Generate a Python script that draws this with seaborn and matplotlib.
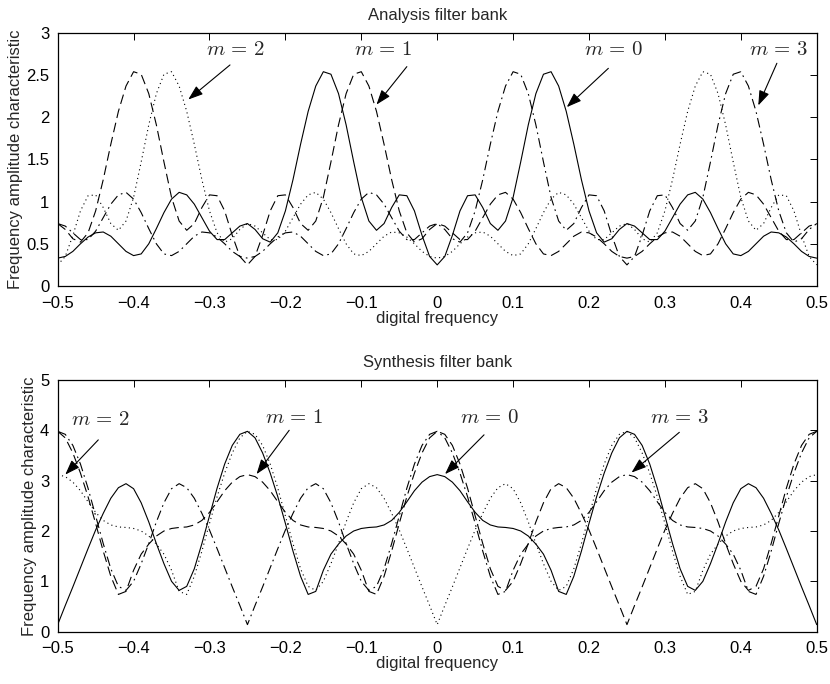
import numpy as np
import pandas as pd
import seaborn as sns
import matplotlib
matplotlib.use("Agg")
import matplotlib.pyplot as plt

# ---------------- data ----------------
freq = np.round(np.arange(-50, 51) / 100.0, 2)

analysis_m0 = [0.33,0.35,0.41,0.50,0.58,0.63,0.64,0.59,0.50,0.41,
 0.36,0.38,0.50,0.68,0.87,1.03,1.11,1.08,0.97,0.81,
 0.65,0.55,0.55,0.63,0.71,0.74,0.67,0.56,0.52,0.63,
 0.89,1.26,1.68,2.07,2.37,2.54,2.51,2.28,1.91,1.47,
 1.05,0.77,0.66,0.74,0.93,1.08,1.07,0.89,0.60,0.35,
 0.25,0.35,0.60,0.89,1.07,1.08,0.93,0.74,0.66,0.77,
 1.05,1.47,1.91,2.28,2.51,2.54,2.37,2.07,1.68,1.26,
 0.89,0.63,0.52,0.56,0.67,0.74,0.71,0.63,0.55,0.55,
 0.65,0.81,0.97,1.08,1.11,1.03,0.87,0.68,0.50,0.38,
 0.36,0.41,0.50,0.59,0.64,0.63,0.58,0.50,0.41,0.35,
 0.33]

analysis_m1 = [0.74,0.67,0.56,0.52,0.63,
 0.89,1.26,1.68,2.07,2.37,2.54,2.51,2.28,1.91,1.47,
 1.05,0.77,0.66,0.74,0.93,1.08,1.07,0.89,0.60,0.35,
 0.25,0.35,0.60,0.89,1.07,1.08,0.93,0.74,0.66,0.77,
 1.05,1.47,1.91,2.28,2.51,2.54,2.37,2.07,1.68,1.26,
 0.89,0.63,0.52,0.56,0.67,0.74,0.71,0.63,0.55,0.55,
 0.65,0.81,0.97,1.08,1.11,1.03,0.87,0.68,0.50,0.38,
 0.36,0.41,0.50,0.59,0.64,0.63,0.58,0.50,0.41,0.35,
 0.33,0.35,0.41,0.50,0.58,0.63,0.64,0.59,0.50,0.41,
 0.36,0.38,0.50,0.68,0.87,1.03,1.11,1.08,0.97,0.81,
 0.65,0.55,0.55,0.63,0.71,
 0.74]

analysis_m2 = [0.25,0.35,0.60,0.89,1.07,1.08,0.93,0.74,0.66,0.77,
 1.05,1.47,1.91,2.28,2.51,2.54,2.37,2.07,1.68,1.26,
 0.89,0.63,0.52,0.56,0.67,0.74,0.71,0.63,0.55,0.55,
 0.65,0.81,0.97,1.08,1.11,1.03,0.87,0.68,0.50,0.38,
 0.36,0.41,0.50,0.59,0.64,0.63,0.58,0.50,0.41,0.35,
 0.33,0.35,0.41,0.50,0.58,0.63,0.64,0.59,0.50,0.41,
 0.36,0.38,0.50,0.68,0.87,1.03,1.11,1.08,0.97,0.81,
 0.65,0.55,0.55,0.63,0.71,0.74,0.67,0.56,0.52,0.63,
 0.89,1.26,1.68,2.07,2.37,2.54,2.51,2.28,1.91,1.47,
 1.05,0.77,0.66,0.74,0.93,1.08,1.07,0.89,0.60,0.35,
 0.25]

analysis_m3 = [0.74,0.71,0.63,0.55,0.55,
 0.65,0.81,0.97,1.08,1.11,1.03,0.87,0.68,0.50,0.38,
 0.36,0.41,0.50,0.59,0.64,0.63,0.58,0.50,0.41,0.35,
 0.33,0.35,0.41,0.50,0.58,0.63,0.64,0.59,0.50,0.41,
 0.36,0.38,0.50,0.68,0.87,1.03,1.11,1.08,0.97,0.81,
 0.65,0.55,0.55,0.63,0.71,0.74,0.67,0.56,0.52,0.63,
 0.89,1.26,1.68,2.07,2.37,2.54,2.51,2.28,1.91,1.47,
 1.05,0.77,0.66,0.74,0.93,1.08,1.07,0.89,0.60,0.35,
 0.25,0.35,0.60,0.89,1.07,1.08,0.93,0.74,0.66,0.77,
 1.05,1.47,1.91,2.28,2.51,2.54,2.37,2.07,1.68,1.26,
 0.89,0.63,0.52,0.56,0.67,
 0.74]

synthesis_m0 = [0.14,0.52,0.89,1.27,1.65,2.02,2.35,2.65,2.86,2.94,
 2.84,2.56,2.18,1.75,1.35,1.00,0.82,0.90,1.25,1.75,
 2.30,2.85,3.33,3.70,3.92,3.98,3.85,3.55,3.15,2.68,
 2.15,1.60,1.10,0.74,0.80,1.22,1.54,1.74,1.90,2.00,
 2.05,2.07,2.08,2.12,2.21,2.37,2.58,2.80,2.97,3.08,
 3.12,3.08,2.97,2.80,2.58,2.37,2.21,2.12,2.08,2.07,
 2.05,2.00,1.90,1.74,1.54,1.22,0.80,0.74,1.10,1.60,
 2.15,2.68,3.15,3.55,3.85,3.98,3.92,3.70,3.33,2.85,
 2.30,1.75,1.25,0.90,0.82,1.00,1.35,1.75,2.18,2.56,
 2.84,2.94,2.86,2.65,2.35,2.02,1.65,1.27,0.89,0.52,
 0.14]

synthesis_m1 = [3.98,3.85,3.55,3.15,2.68,
 2.15,1.60,1.10,0.74,0.80,1.22,1.54,1.74,1.90,2.00,
 2.05,2.07,2.08,2.12,2.21,2.37,2.58,2.80,2.97,3.08,
 3.12,3.08,2.97,2.80,2.58,2.37,2.21,2.12,2.08,2.07,
 2.05,2.00,1.90,1.74,1.54,1.22,0.80,0.74,1.10,1.60,
 2.15,2.68,3.15,3.55,3.85,3.98,3.92,3.70,3.33,2.85,
 2.30,1.75,1.25,0.90,0.82,1.00,1.35,1.75,2.18,2.56,
 2.84,2.94,2.86,2.65,2.35,2.02,1.65,1.27,0.89,0.52,
 0.14,0.52,0.89,1.27,1.65,2.02,2.35,2.65,2.86,2.94,
 2.84,2.56,2.18,1.75,1.35,1.00,0.82,0.90,1.25,1.75,
 2.30,2.85,3.33,3.70,3.92,
 3.98]

synthesis_m2 = [3.12,3.08,2.97,2.80,2.58,2.37,2.21,2.12,2.08,2.07,
 2.05,2.00,1.90,1.74,1.54,1.22,0.80,0.74,1.10,1.60,
 2.15,2.68,3.15,3.55,3.85,3.98,3.92,3.70,3.33,2.85,
 2.30,1.75,1.25,0.90,0.82,1.00,1.35,1.75,2.18,2.56,
 2.84,2.94,2.86,2.65,2.35,2.02,1.65,1.27,0.89,0.52,
 0.14,0.52,0.89,1.27,1.65,2.02,2.35,2.65,2.86,2.94,
 2.84,2.56,2.18,1.75,1.35,1.00,0.82,0.90,1.25,1.75,
 2.30,2.85,3.33,3.70,3.92,3.98,3.85,3.55,3.15,2.68,
 2.15,1.60,1.10,0.74,0.80,1.22,1.54,1.74,1.90,2.00,
 2.05,2.07,2.08,2.12,2.21,2.37,2.58,2.80,2.97,3.08,
 3.12]

synthesis_m3 = [3.98,3.92,3.70,3.33,2.85,
 2.30,1.75,1.25,0.90,0.82,1.00,1.35,1.75,2.18,2.56,
 2.84,2.94,2.86,2.65,2.35,2.02,1.65,1.27,0.89,0.52,
 0.14,0.52,0.89,1.27,1.65,2.02,2.35,2.65,2.86,2.94,
 2.84,2.56,2.18,1.75,1.35,1.00,0.82,0.90,1.25,1.75,
 2.30,2.85,3.33,3.70,3.92,3.98,3.85,3.55,3.15,2.68,
 2.15,1.60,1.10,0.74,0.80,1.22,1.54,1.74,1.90,2.00,
 2.05,2.07,2.08,2.12,2.21,2.37,2.58,2.80,2.97,3.08,
 3.12,3.08,2.97,2.80,2.58,2.37,2.21,2.12,2.08,2.07,
 2.05,2.00,1.90,1.74,1.54,1.22,0.80,0.74,1.10,1.60,
 2.15,2.68,3.15,3.55,3.85,
 3.98]

x_ticks = [-0.5, -0.4, -0.3, -0.2, -0.1, 0, 0.1, 0.2, 0.3, 0.4, 0.5]
x_ticklabels = ["\u22120.5", "\u22120.4", "\u22120.3", "\u22120.2", "\u22120.1",
                "0", "0.1", "0.2", "0.3", "0.4", "0.5"]
top_yticks = [0, 0.5, 1, 1.5, 2, 2.5, 3]
top_yticklabels = ["0", "0.5", "1", "1.5", "2", "2.5", "3"]
bot_yticks = [0, 1, 2, 3, 4, 5]
bot_yticklabels = ["0", "1", "2", "3", "4", "5"]

titles = ["Analysis filter bank", "Synthesis filter bank"]
ylabel = "Frequency amplitude characteristic"
xlabel = "digital frequency"
labels = ["$m\\,=\\,0$", "$m\\,=\\,1$", "$m\\,=\\,2$", "$m\\,=\\,3$"]

# annotation anchors: (text x, text y, arrow tail x, tail y, tip x, tip y)
top_notes = {
    2: (-0.266, 2.80, -0.273, 2.62, -0.328, 2.21),
    1: (-0.071, 2.80, -0.040, 2.60, -0.080, 2.15),
    0: (0.232, 2.80, 0.2255, 2.58, 0.1707, 2.12),
    3: (0.450, 2.80, 0.4475, 2.64, 0.423, 2.14),
}
bot_notes = {
    2: (-0.443, 4.22, -0.4465, 3.81, -0.490, 3.12),
    1: (-0.188, 4.25, -0.195, 4.00, -0.238, 3.13),
    0: (0.0697, 4.25, 0.0617, 3.91, 0.0103, 3.13),
    3: (0.319, 4.25, 0.319, 3.96, 0.256, 3.16),
}

# ---------------- style ----------------
sns.set_style("white")
plt.rcParams["font.family"] = ["Liberation Sans", "DejaVu Sans"]
plt.rcParams["mathtext.fontset"] = "cm"
plt.rcParams["lines.scale_dashes"] = False

line_styles = ["-", (0, (7, 3.5)), (0, (0.8, 2.4)), (0, (7, 3, 1.2, 3))]

fig = plt.figure(figsize=(8.3, 6.84), dpi=100)
ax_top = fig.add_axes([0.0695, 0.5819, 0.9145, 0.370])
ax_bot = fig.add_axes([0.0695, 0.0765, 0.9145, 0.368])

panels = [
    (ax_top, [analysis_m0, analysis_m1, analysis_m2, analysis_m3], (0, 3),
     top_yticks, top_yticklabels, top_notes, titles[0]),
    (ax_bot, [synthesis_m0, synthesis_m1, synthesis_m2, synthesis_m3], (0, 5),
     bot_yticks, bot_yticklabels, bot_notes, titles[1]),
]

for ax, series, ylim, yt, ytl, notes, title in panels:
    for vals, ls in zip(series, line_styles):
        df = pd.DataFrame({"f": freq, "amp": vals})
        sns.lineplot(data=df, x="f", y="amp", ax=ax, color="black",
                     linewidth=0.8, linestyle=ls, estimator=None, sort=False)
    ax.set_xlim(-0.5, 0.5)
    ax.set_ylim(*ylim)
    ax.set_xticks(x_ticks)
    ax.set_xticklabels(x_ticklabels)
    ax.set_yticks(yt)
    ax.set_yticklabels(ytl)
    ax.tick_params(direction="in", top=True, right=True, length=5, width=0.7,
                   labelsize=12, color="black", labelcolor="black")
    ax.tick_params(axis="x", pad=7)
    ax.tick_params(axis="y", pad=6)
    for sp in ax.spines.values():
        sp.set_visible(True)
        sp.set_linewidth(0.9)
        sp.set_color("black")
    ax.set_xlabel(xlabel, fontsize=12, labelpad=0)
    ax.set_ylabel(ylabel, fontsize=12, labelpad=2)
    ax.set_title(title, fontsize=12, pad=9)
    for m, (tx, ty, ax0, ay0, ax1, ay1) in notes.items():
        ax.text(tx, ty, labels[m], fontsize=15, ha="center", va="center")
        ax.annotate("", xy=(ax1, ay1), xytext=(ax0, ay0),
                    arrowprops=dict(arrowstyle="-|>,head_length=0.9,head_width=0.32",
                                    color="black", lw=0.8, shrinkA=0, shrinkB=0,
                                    mutation_scale=10))

fig.savefig("out.png", dpi=100)
